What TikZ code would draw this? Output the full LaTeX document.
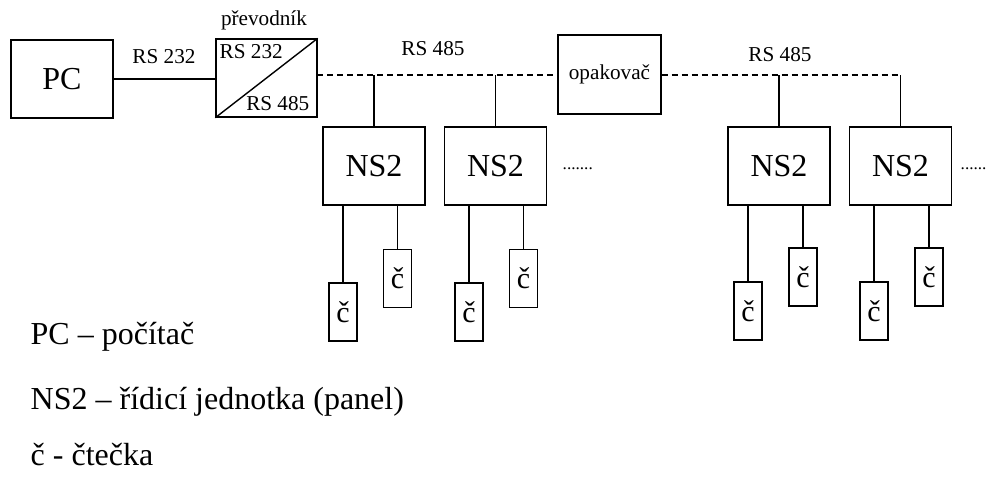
\documentclass[tikz,border=0pt]{standalone}
\usepackage{fontspec}
\setmainfont{Liberation Serif}
\begin{document}
\begin{tikzpicture}[x=0.5pt,y=-0.5pt,
  line width=0.7pt,
  unit/.style={draw,rectangle,inner sep=0pt},
  big/.style={unit,minimum width=51pt,minimum height=39pt,font=\fontsize{16}{18}\selectfont},
  reader/.style={unit,minimum width=14pt,minimum height=29pt,font=\fontsize{15}{17}\selectfont},
  lbl/.style={inner sep=0pt,font=\fontsize{10.6}{12}\selectfont},
  dotrow/.style={inner sep=0pt,anchor=base west,font=\fontsize{8.6}{10}\selectfont},
  legend/.style={inner sep=0pt,anchor=west,font=\fontsize{16}{18}\selectfont},
  bus/.style={dash pattern=on 3pt off 2pt}]
\useasboundingbox (0,0) rectangle (986,495);

% computer and converter
\node[big] (pc) at (62,79) {PC};
\node[unit,minimum width=50.5pt,minimum height=39pt] (conv) at (266.5,78) {};
\draw (conv.south west) -- (conv.north east);
\node[lbl,anchor=north west] (c232) at (219,44) {RS 232};
\node[lbl,anchor=south east] (c485) at (310,111) {RS 485};
\node[lbl] (prev) at (264,20) {převodník};
\draw (pc.east |- 0,79) -- (conv.west |- 0,79);
\node[lbl] (l232) at (164,57) {RS 232};

% repeater
\node[unit,minimum width=51.5pt,minimum height=39.5pt,font=\fontsize{10.6}{12}\selectfont] (rep) at (609.5,74.5) {opakovač};

% control units
\node[big] (ns1) at (374,166) {NS2};
\node[big] (ns2) at (495.5,166) {NS2};
\node[big] (ns3) at (779,166) {NS2};
\node[big] (ns4) at (900.5,166) {NS2};

% RS 485 bus
\coordinate (b0) at (317,75);
\coordinate (bend) at (900,75);
\draw[bus] (b0) -- (rep.west |- b0);
\draw[bus] (rep.east |- b0) -- (bend);
\node[lbl] (l485a) at (433,49) {RS 485};
\node[lbl] (l485b) at (780,55) {RS 485};
\foreach \n in {ns1,ns2,ns3,ns4}
  \draw (\n.north |- b0) -- (\n.north);

\node[dotrow] (dots1) at (562,169) {.......};
\node[dotrow] (dots2) at (960,169) {......};

% readers
\node[reader] (r1) at (343,312) {č};
\node[reader] (r2) at (397.5,278.5) {č};
\node[reader] (r3) at (469,312) {č};
\node[reader] (r4) at (523.5,278.5) {č};
\node[reader] (r5) at (748,311) {č};
\node[reader] (r6) at (803,277) {č};
\node[reader] (r7) at (874,311) {č};
\node[reader] (r8) at (929,277) {č};
\draw (ns1.south -| r1.north) -- (r1.north);
\draw (ns1.south -| r2.north) -- (r2.north);
\draw (ns2.south -| r3.north) -- (r3.north);
\draw (ns2.south -| r4.north) -- (r4.north);
\draw (ns3.south -| r5.north) -- (r5.north);
\draw (ns3.south -| r6.north) -- (r6.north);
\draw (ns4.south -| r7.north) -- (r7.north);
\draw (ns4.south -| r8.north) -- (r8.north);

% legend
\node[legend] (leg1) at (30,337) {PC – počítač};
\node[legend] (leg2) at (30,402) {NS2 – řídicí jednotka (panel)};
\node[legend] (leg3) at (30,455) {č - čtečka};
\end{tikzpicture}
\end{document}
